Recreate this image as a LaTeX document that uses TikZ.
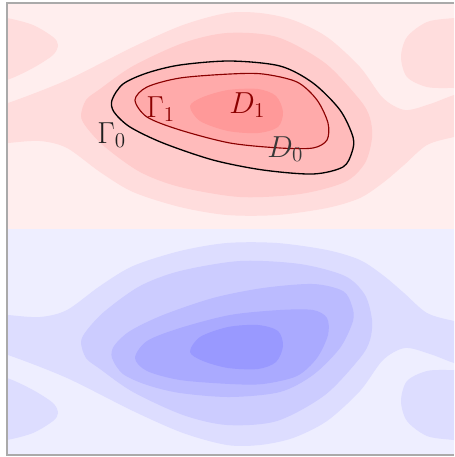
\documentclass[tikz,border=0pt]{standalone}
\definecolor{ra}{HTML}{FFEEEE}
\definecolor{rb}{HTML}{FFDDDD}
\definecolor{rc}{HTML}{FFCCCC}
\definecolor{rd}{HTML}{FFBBBB}
\definecolor{re}{HTML}{FFAAAA}
\definecolor{rf}{HTML}{FF9999}
\definecolor{ba}{HTML}{EEEEFF}
\definecolor{bb}{HTML}{DDDDFF}
\definecolor{bc}{HTML}{CCCCFF}
\definecolor{bd}{HTML}{BBBBFF}
\definecolor{be}{HTML}{AAAAFF}
\definecolor{bf}{HTML}{9999FF}
\definecolor{dred}{RGB}{139,0,0}
\definecolor{framegray}{HTML}{AAAAAA}
\newcommand\fieldshapes[6]{%
  \fill[#1] (0,0) rectangle (470,229);
  \fill[#2] plot[smooth cycle] coordinates {(-20,15) (7,18) (33,25) (53,37) (58,45) (53,55) (33,68) (7,80) (-20,85)};
  \fill[#2] plot[smooth cycle] coordinates {(490,15) (454,18) (427,22) (407,37) (401,57) (407,77) (427,87) (454,88) (490,88)};
  \fill[#2] plot[smooth cycle] coordinates {(-20,110) (8,103) (67,80) (133,47) (183,25) (227,13) (260,13) (293,20) (327,37) (360,67) (383,98) (405,110) (430,104) (454,95) (480,88) (480,132) (454,137) (427,145) (404,165) (384,182) (360,198) (327,208) (277,215) (227,215) (180,207) (133,192) (100,172) (67,148) (40,141) (8,143) (-20,146)};
  \fill[#3] plot[smooth cycle] coordinates {(81,116) (86,100) (100,89) (133,66) (183,43) (227,33) (277,37) (325,63) (360,100) (370,118) (372,138) (365,163) (345,182) (300,194) (240,197) (180,187) (140,172) (105,147) (87,128)};
  \fill[#4] plot[smooth cycle] coordinates {(112,100) (123,84) (147,73) (180,65) (230,61) (280,66) (313,83) (340,110) (353,137) (352,152) (343,167) (313,174) (263,170) (213,160) (163,143) (130,127) (114,112)};
  \fill[#5] plot[smooth cycle] coordinates {(135,100) (147,87) (180,78) (230,74) (263,74) (297,82) (317,100) (328,123) (327,140) (313,148) (280,148) (230,143) (180,130) (147,117)};
  \fill[#6] plot[smooth cycle] coordinates {(190,106) (203,97) (228,90) (258,89) (276,96) (283,112) (278,127) (258,133) (228,131) (200,121)};
}
\begin{document}
\begin{tikzpicture}[x=0.02cm,y=-0.02cm,
  lbl/.style={inner sep=0pt, anchor=base west, font=\fontsize{18.5}{22}\selectfont},
  curveline/.style={line width=0.75pt}]
\useasboundingbox (0,0) rectangle (454,457);
% red half
\begin{scope}
  \clip (8,4) rectangle (454,229);
  \fieldshapes{ra}{rb}{rc}{rd}{re}{rf}
\end{scope}
% blue half (mirror of the red half)
\begin{scope}[shift={(0,458)}, yscale=-1]
  \clip (8,4) rectangle (454,229);
  \fieldshapes{ba}{bb}{bc}{bd}{be}{bf}
\end{scope}
% contour lines
\draw[curveline, black] plot[smooth cycle] coordinates {(112,100) (123,84) (147,73) (180,65) (230,61) (280,66) (313,83) (340,110) (353,137) (352,152) (343,167) (313,174) (263,170) (213,160) (163,143) (130,127) (114,112)};
\draw[curveline, dred, line width=0.65pt] plot[smooth cycle] coordinates {(135,100) (147,87) (180,78) (230,74) (263,74) (297,82) (317,100) (328,123) (327,140) (313,148) (280,148) (230,143) (180,130) (147,117)};
% labels
\node[lbl, text=black!88] (g0) at (97,143) {$\Gamma_0$};
\node[lbl, text=dred] (g1) at (146,117) {$\Gamma_1$};
\node[lbl, text=dred] (d1) at (229,113) {$D_1$};
\node[lbl, text=black!78] (d0) at (267,157) {$D_0$};
% frame
\draw[framegray, line width=1pt] (454,3) -- (7,3) -- (7,455) -- (454,455);
\end{tikzpicture}
\end{document}
